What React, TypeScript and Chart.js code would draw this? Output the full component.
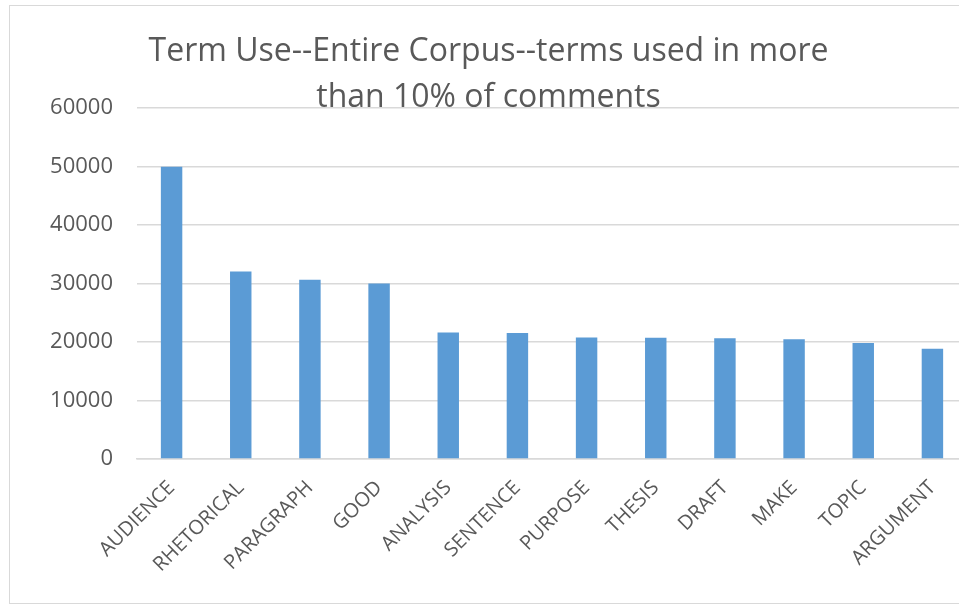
import React, { useEffect, useRef } from "react";
import { Chart, registerables } from "chart.js";

Chart.register(...registerables);

const titleLines = ["Term Use--Entire Corpus--terms used in more", "than 10% of comments"];
const categories = [
  "AUDIENCE",
  "RHETORICAL",
  "PARAGRAPH",
  "GOOD",
  "ANALYSIS",
  "SENTENCE",
  "PURPOSE",
  "THESIS",
  "DRAFT",
  "MAKE",
  "TOPIC",
  "ARGUMENT",
];
const termCounts = [50000, 32050, 30650, 30000, 21650, 21550, 20800, 20750, 20650, 20500, 19850, 18850];
const yMin = 0;
const yMax = 60000;
const yStep = 10000;

const FONT = "'Open Sans', 'Noto Sans', sans-serif";
const TEXT = "#595959";
const GRID = "#d9d9d9";
const BAR = "#5b9bd5";

export default function App() {
  const canvasRef = useRef<HTMLCanvasElement | null>(null);

  useEffect(() => {
    const canvas = canvasRef.current;
    if (!canvas) return;
    const chart = new Chart(canvas, {
      type: "bar",
      data: {
        labels: categories,
        datasets: [
          {
            data: termCounts,
            backgroundColor: BAR,
            borderWidth: 0,
            categoryPercentage: 1,
            barPercentage: 0.31,
          },
        ],
      },
      options: {
        animation: false,
        responsive: false,
        maintainAspectRatio: false,
        layout: { padding: { left: 0, right: 1, top: 0, bottom: 0 } },
        plugins: {
          legend: { display: false },
          tooltip: { enabled: false },
          title: {
            display: true,
            text: titleLines,
            color: TEXT,
            font: { family: FONT, size: 32, weight: "normal", lineHeight: 1.44 },
            padding: { top: 23, bottom: -13 },
          },
        },
        scales: {
          x: {
            grid: { display: false },
            border: { display: true, color: GRID, width: 1.5 },
            ticks: {
              color: TEXT,
              font: { family: FONT, size: 20 },
              maxRotation: 45,
              minRotation: 45,
              autoSkip: false,
              padding: 9,
            },
            afterFit: (s: any) => {
              s.height = 144;
            },
          },
          y: {
            min: yMin,
            max: yMax,
            grid: { color: GRID, lineWidth: 1.5, drawTicks: false },
            border: { display: false },
            ticks: {
              stepSize: yStep,
              color: TEXT,
              font: { family: FONT, size: 22 },
              padding: 24,
              callback: (v: any) => String(v),
            },
            afterFit: (s: any) => {
              s.width = 127;
            },
          },
        },
      },
    });
    return () => chart.destroy();
  }, []);

  return (
    <div
      style={{
        position: "fixed",
        left: 9,
        top: 5,
        width: 950,
        height: 600,
        overflow: "hidden",
        background: "#fff",
      }}
    >
      <div
        style={{
          boxSizing: "border-box",
          width: 960,
          height: 599,
          border: `1px solid ${GRID}`,
          background: "#fff",
        }}
      >
        <canvas ref={canvasRef} width={958} height={597} style={{ display: "block" }} />
      </div>
    </div>
  );
}
